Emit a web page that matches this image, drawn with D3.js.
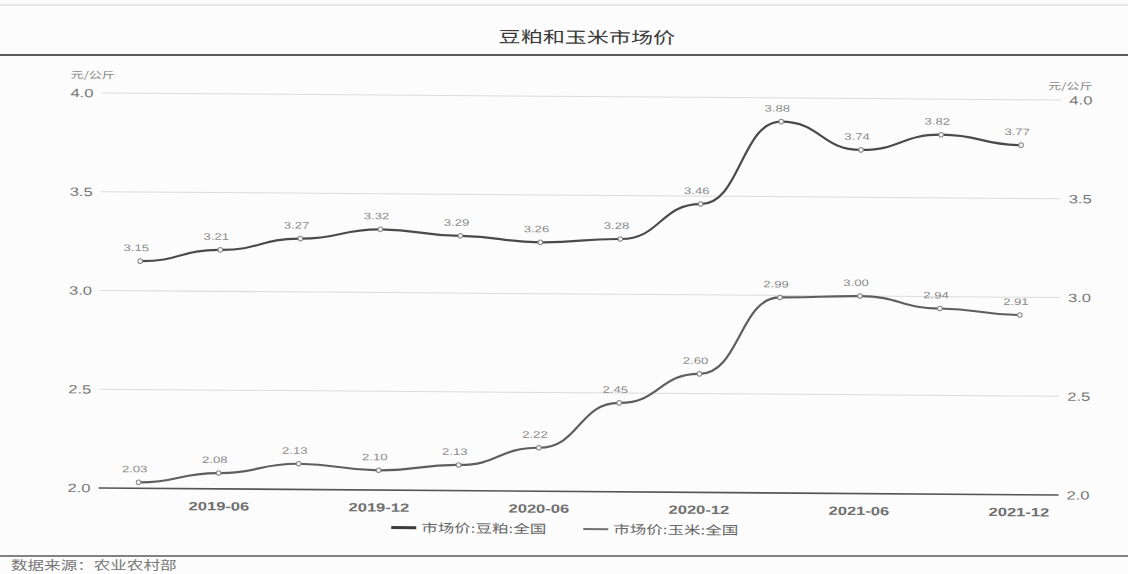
<!DOCTYPE html>
<html><head><meta charset="utf-8">
<script src="https://cdn.jsdelivr.net/npm/d3@7"></script>
<style>
body{margin:0;background:#fcfcfc;}
svg{display:block;}
</style></head><body>
<svg id="chart" width="1128" height="574"></svg>
<script>
// Quarterly market prices (元/公斤)
const periods = ["2019-03","2019-06","2019-09","2019-12","2020-03","2020-06","2020-09","2020-12","2021-03","2021-06","2021-09","2021-12"];
const soybeanMeal = [3.15,3.21,3.27,3.32,3.29,3.26,3.28,3.46,3.88,3.74,3.82,3.77];
const corn = [2.03,2.08,2.13,2.10,2.13,2.22,2.45,2.60,2.99,3.00,2.94,2.91];
const xTickLabels = ["2019-06","2019-12","2020-06","2020-12","2021-06","2021-12"];
const yTicks = [2.0,2.5,3.0,3.5,4.0];
const seriesNames = ["市场价:豆粕:全国","市场价:玉米:全国"];
const titleText = "豆粕和玉米市场价";
const unitText = "元/公斤";
const sourceText = "数据来源：农业农村部";

const W = 1128, H = 574;
const SX = 1.38;                       // wide glyph proportions
const CJK = '"Noto Sans CJK SC","Noto Sans",sans-serif';
const NUM = '"Liberation Sans",Arial,sans-serif';
const plot = {left:100, right:1060, top:96.5, bottom:491.5};

const svg = d3.select("#chart");

// horizontally stretched text at (x,y)
function label(g, x, y, str, o) {
  return g.append("text")
    .attr("transform", `translate(${x},${y}) scale(${SX},1)`)
    .attr("text-anchor", o.anchor || "start")
    .attr("font-family", o.family || CJK)
    .attr("font-size", o.size)
    .attr("font-weight", o.weight || 400)
    .attr("fill", o.fill)
    .text(str);
}

// page rules
svg.append("line").attr("x1",0).attr("x2",W).attr("y1",5).attr("y2",5)
  .attr("stroke","#d2d2d2").attr("stroke-width",1);
svg.append("line").attr("x1",0).attr("x2",W).attr("y1",55).attr("y2",55)
  .attr("stroke","#5a5a5a").attr("stroke-width",2);
svg.append("line").attr("x1",0).attr("x2",W).attr("y1",556).attr("y2",556)
  .attr("stroke","#5a5a5a").attr("stroke-width",1.6);
label(svg, 11, 570, sourceText, {size:12, fill:"#777"});

const root = svg.append("g").attr("transform","rotate(0.42,580,290)");
label(root, 585, 43, titleText, {anchor:"middle", size:16, fill:"#3a3a3a"});

// scales
const x = d3.scalePoint().domain(periods).range([plot.left, plot.right]).padding(0.5);
const y = d3.scaleLinear().domain([2.0,4.0]).range([plot.bottom, plot.top]);

// gridlines
root.append("g").selectAll("line").data(yTicks.filter(d => d > 2.0)).join("line")
  .attr("x1", plot.left).attr("x2", plot.right)
  .attr("y1", d => y(d)).attr("y2", d => y(d))
  .attr("stroke","#dcdcdc").attr("stroke-width",1);

// axes
function styleTicks(g, dx, anchor) {
  g.select(".domain").remove();
  g.selectAll(".tick line").remove();
  g.selectAll(".tick text")
    .attr("x", dx / SX)
    .attr("transform", `scale(${SX},1)`)
    .attr("text-anchor", anchor)
    .attr("font-family", NUM).attr("font-size", 12).attr("fill", "#777");
}
root.append("g").attr("transform",`translate(${plot.left},0)`)
  .call(d3.axisLeft(y).tickValues(yTicks).tickFormat(d3.format(".1f")).tickSize(0))
  .call(g => styleTicks(g, -8, "end"));
root.append("g").attr("transform",`translate(${plot.right},0)`)
  .call(d3.axisRight(y).tickValues(yTicks).tickFormat(d3.format(".1f")).tickSize(0))
  .call(g => styleTicks(g, 8, "start"));
root.append("g").attr("transform",`translate(0,${plot.bottom})`)
  .call(d3.axisBottom(x).tickValues(xTickLabels).tickSize(0).tickPadding(13))
  .call(g => styleTicks(g, 0, "middle"))
  .call(g => g.selectAll(".tick text").attr("fill","#707070").attr("font-weight",700));
root.append("line").attr("x1",plot.left).attr("x2",plot.right)
  .attr("y1",plot.bottom).attr("y2",plot.bottom)
  .attr("stroke","#555").attr("stroke-width",1.6);

// unit labels
label(root, 69, 82, unitText, {size:9.5, fill:"#888"});
label(root, 1091, 86, unitText, {anchor:"end", size:9.5, fill:"#888"});

// series
const series = [
  {name: seriesNames[0], values: soybeanMeal, color:"#4a4a4a", width:2.2},
  {name: seriesNames[1], values: corn, color:"#5e5e5e", width:2.2}
];
const line = d3.line()
  .x((d,i) => x(periods[i]))
  .y(d => y(d))
  .curve(d3.curveBumpX);

series.forEach(s => {
  const g = root.append("g");
  g.append("path").datum(s.values)
    .attr("d", line).attr("fill","none")
    .attr("stroke", s.color).attr("stroke-width", s.width);
  g.selectAll("circle").data(s.values).join("circle")
    .attr("cx", (d,i) => x(periods[i])).attr("cy", d => y(d)).attr("r", 2.3)
    .attr("fill","#f4f4f4").attr("stroke","#888").attr("stroke-width",1);
  s.values.forEach((v,i) => {
    label(g, x(periods[i]) - 4, y(v) - 10, v.toFixed(2),
      {anchor:"middle", family:NUM, size:9.5, fill:"#8a8a8a"});
  });
});

// legend
const legend = [
  {x0:393, color:"#3c3c3c", width:3, name:seriesNames[0]},
  {x0:585, color:"#707070", width:2, name:seriesNames[1]}
];
legend.forEach(l => {
  root.append("line").attr("x1", l.x0).attr("x2", l.x0 + 25)
    .attr("y1", 529).attr("y2", 529)
    .attr("stroke", l.color).attr("stroke-width", l.width);
  label(root, l.x0 + 30, 533.5, l.name, {size:12, fill:"#666"});
});
</script>
</body></html>
